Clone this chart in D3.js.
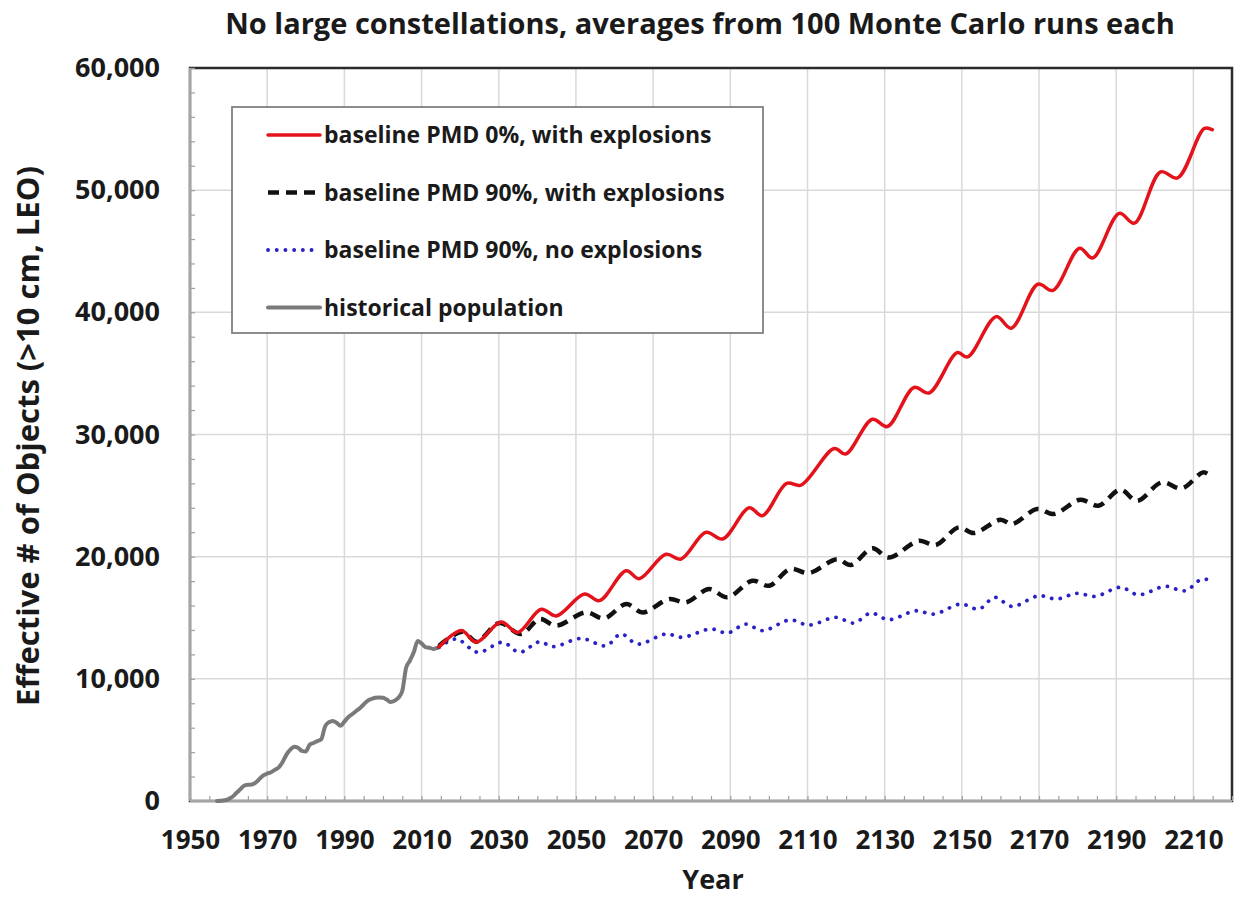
<!DOCTYPE html>
<html>
<head>
<meta charset="utf-8">
<script src="https://cdn.jsdelivr.net/npm/d3@7"></script>
<style>
  body { margin: 0; background: #fff; }
  svg text { font-family: "Open Sans", "DejaVu Sans", sans-serif; fill: #1a1a1a; }
</style>
</head>
<body>
<div id="chart"></div>
<script>
// historical population (gray)
const histYears = [1957, 1958, 1959, 1960, 1961, 1962, 1963, 1964, 1965, 1966, 1967, 1968, 1969, 1970,
  1971, 1972, 1973, 1974, 1975, 1976, 1977, 1978, 1979, 1980, 1981, 1982, 1983, 1984, 1985, 1986, 1987,
  1988, 1989, 1990, 1991, 1992, 1993, 1994, 1995, 1996, 1997, 1998, 1999, 2000, 2001, 2002, 2003, 2004,
  2005, 2006, 2007, 2008, 2009, 2010, 2011, 2012, 2013, 2014.5];
const histValues = [0, 20, 60, 150, 350, 650, 950, 1250, 1330, 1350, 1500, 1800, 2100, 2250,
  2350, 2550, 2750, 3200, 3800, 4200, 4450, 4350, 4100, 4050, 4600, 4750, 4900, 5050, 6100, 6450, 6550,
  6400, 6150, 6500, 6850, 7100, 7350, 7600, 7900, 8200, 8350, 8450, 8480, 8450, 8300, 8100, 8200, 8450,
  9000, 10900, 11500, 12200, 13100, 12900, 12600, 12550, 12450, 12600];

// baseline PMD 0%, with explosions (red)
const redYears = [2014.5, 2020.3, 2024.2, 2030.6, 2034.9, 2041.0, 2044.9, 2052.2, 2056.1, 2063.0, 2066.4,
  2073.3, 2077.2, 2083.7, 2088.0, 2094.9, 2098.3, 2104.6, 2108.3, 2116.9, 2119.9, 2126.8, 2130.7, 2137.6,
  2141.5, 2148.8, 2151.5, 2158.9, 2162.8, 2169.7, 2173.6, 2180.5, 2183.9, 2190.8, 2194.7, 2201.5, 2205.9,
  2212.8, 2214.9];
const redValues = [12600, 13950, 13000, 14650, 13800, 15700, 15150, 16950, 16400, 18850, 18200,
  20200, 19800, 22000, 21450, 24000, 23350, 26000, 25850, 28850, 28400, 31250, 30650, 33850,
  33400, 36700, 36350, 39650, 38700, 42300, 41800, 45250, 44450, 48100, 47300, 51500, 51000,
  55050, 54950];

// baseline PMD 90%, with explosions (black dashed)
const blackYears = [2014.5, 2020.7, 2024.2, 2030.2, 2035.8, 2040.6, 2044.9, 2052.6, 2057.3, 2063.0, 2067.3,
  2074.2, 2078.5, 2084.5, 2089.3, 2095.7, 2100.1, 2105.5, 2110.4, 2117.7, 2121.2, 2126.8, 2131.1, 2138.9,
  2143.2, 2149.2, 2153.1, 2160.0, 2163.0, 2169.5, 2173.8, 2180.7, 2185.4, 2191.1, 2195.4, 2201.8, 2207.0,
  2212.6, 2214.8];
const blackValues = [12700, 13860, 13040, 14570, 13670, 14890, 14350, 15440, 14950, 16120, 15440,
  16530, 16260, 17350, 16670, 18030, 17620, 18990, 18660, 19800, 19310, 20680, 19940, 21300,
  20950, 22400, 21930, 23020, 22670, 23900, 23490, 24660, 24170, 25480, 24570, 26080, 25590,
  26900, 26490];

// baseline PMD 90%, no explosions (blue dotted)
const blueYears = [2014.5, 2019.0, 2024.6, 2031.0, 2035.4, 2040.6, 2044.0, 2051.3, 2057.8, 2061.7, 2066.0,
  2073.3, 2077.6, 2085.0, 2089.3, 2094.0, 2098.3, 2105.5, 2110.4, 2117.3, 2122.0, 2126.4, 2131.1, 2138.0,
  2142.8, 2149.7, 2154.4, 2158.5, 2163.0, 2169.9, 2174.6, 2179.8, 2184.6, 2191.1, 2195.8, 2202.7, 2207.9,
  2212.2, 2214.8];
const blueValues = [12580, 13260, 12170, 12990, 12170, 13040, 12630, 13310, 12710, 13670, 12850,
  13670, 13400, 14080, 13750, 14480, 13940, 14820, 14400, 15030, 14570, 15380, 14840, 15570,
  15300, 16120, 15710, 16670, 15930, 16800, 16530, 17000, 16750, 17490, 16880, 17570, 17210,
  18170, 17980];

const xTicks = [1950, 1970, 1990, 2010, 2030, 2050, 2070, 2090, 2110, 2130, 2150, 2170, 2190, 2210];
const yTicks = [0, 10000, 20000, 30000, 40000, 50000, 60000];

const series = [
  {name: "baseline PMD 0%, with explosions", years: redYears, values: redValues,
   color: "#e3121b", width: 3.5, dash: null, cap: "round", curve: d3.curveCatmullRom},
  {name: "baseline PMD 90%, with explosions", years: blackYears, values: blackValues,
   color: "#111111", width: 4.5, dash: "11,7", cap: "butt", curve: d3.curveCatmullRom},
  {name: "baseline PMD 90%, no explosions", years: blueYears, values: blueValues,
   color: "#2a22c4", width: 3.8, dash: "0.1,8.6", cap: "round", curve: d3.curveCatmullRom},
  {name: "historical population", years: histYears, values: histValues,
   color: "#7a7a7a", width: 4, dash: null, cap: "round", curve: d3.curveMonotoneX}
];

const W = 1236, H = 902;
const plot = {left: 190, right: 1232, top: 68, bottom: 801};

const x = d3.scaleLinear().domain([1950, 2220]).range([plot.left, plot.right]);
const y = d3.scaleLinear().domain([0, 60000]).range([plot.bottom, plot.top]);

const svg = d3.select("#chart").append("svg")
  .attr("width", W)
  .attr("height", H);

// title
svg.append("text")
  .attr("x", 700)
  .attr("y", 34)
  .attr("text-anchor", "middle")
  .style("font-size", "29px")
  .style("font-weight", 700)
  .text("No large constellations, averages from 100 Monte Carlo runs each");

// gridlines
svg.append("g")
  .selectAll("line.vgrid")
  .data(xTicks.slice(1))
  .join("line")
  .attr("x1", d => x(d)).attr("x2", d => x(d))
  .attr("y1", plot.top).attr("y2", plot.bottom)
  .attr("stroke", "#d9d9d9").attr("stroke-width", 1.5);

svg.append("g")
  .selectAll("line.hgrid")
  .data(yTicks.slice(1, -1))
  .join("line")
  .attr("x1", plot.left).attr("x2", plot.right)
  .attr("y1", d => y(d)).attr("y2", d => y(d))
  .attr("stroke", "#d9d9d9").attr("stroke-width", 1.5);

// frame (dark top / right)
svg.append("rect")
  .attr("x", plot.left).attr("y", plot.top)
  .attr("width", plot.right - plot.left)
  .attr("height", plot.bottom - plot.top)
  .attr("fill", "none")
  .attr("stroke", "#2b2b2b")
  .attr("stroke-width", 2.5);

// minor ticks, pointing inward
const minorX = d3.range(1950, 2221, 5);
const minorY = d3.range(0, 60001, 2000);

const xMinor = svg.append("g")
  .attr("transform", `translate(0,${plot.bottom})`)
  .call(d3.axisBottom(x).tickValues(minorX).tickSize(-5).tickFormat(""));
xMinor.selectAll(".tick line").attr("stroke", "#a0a0a0").attr("stroke-width", 1.2);
xMinor.select(".domain").remove();

const yMinor = svg.append("g")
  .attr("transform", `translate(${plot.left},0)`)
  .call(d3.axisLeft(y).tickValues(minorY).tickSize(-5).tickFormat(""));
yMinor.selectAll(".tick line").attr("stroke", "#a0a0a0").attr("stroke-width", 1.2);
yMinor.select(".domain").remove();

// gray axis lines left / bottom
svg.append("line")
  .attr("x1", plot.left).attr("x2", plot.left)
  .attr("y1", plot.top).attr("y2", plot.bottom)
  .attr("stroke", "#a6a6a6").attr("stroke-width", 2);
svg.append("line")
  .attr("x1", plot.left).attr("x2", plot.right)
  .attr("y1", plot.bottom).attr("y2", plot.bottom)
  .attr("stroke", "#a6a6a6").attr("stroke-width", 2);

// tick labels
const xAxis = svg.append("g")
  .attr("transform", `translate(0,${plot.bottom})`)
  .call(d3.axisBottom(x).tickValues(xTicks).tickSize(0).tickPadding(30).tickFormat(d3.format("d")));
xAxis.select(".domain").remove();
xAxis.selectAll("text")
  .style("font-size", "26px").style("font-weight", 700).attr("fill", "#1a1a1a");

const yAxis = svg.append("g")
  .attr("transform", `translate(${plot.left},0)`)
  .call(d3.axisLeft(y).tickValues(yTicks).tickSize(0).tickPadding(30).tickFormat(d3.format(",")));
yAxis.select(".domain").remove();
yAxis.selectAll("text")
  .style("font-size", "27px").style("font-weight", 700).attr("fill", "#1a1a1a");

// axis titles
svg.append("text")
  .attr("x", 713)
  .attr("y", 889)
  .attr("text-anchor", "middle")
  .style("font-size", "27px")
  .style("font-weight", 700)
  .text("Year");

svg.append("text")
  .attr("transform", "translate(39,436) rotate(-90)")
  .attr("text-anchor", "middle")
  .style("font-size", "31px")
  .style("font-weight", 700)
  .text("Effective # of Objects (>10 cm, LEO)");

// lines
const drawOrder = [series[3], series[2], series[1], series[0]];
drawOrder.forEach(s => {
  const pts = s.years.map((yr, i) => [yr, s.values[i]]);
  svg.append("path")
    .datum(pts)
    .attr("fill", "none")
    .attr("stroke", s.color)
    .attr("stroke-width", s.width)
    .attr("stroke-linecap", s.cap)
    .attr("stroke-linejoin", "round")
    .attr("stroke-dasharray", s.dash)
    .attr("d", d3.line()
      .curve(s.curve)
      .x(d => x(d[0]))
      .y(d => y(d[1])));
});

// legend
const legend = svg.append("g");
legend.append("rect")
  .attr("x", 232).attr("y", 107)
  .attr("width", 531).attr("height", 226)
  .attr("fill", "#fff")
  .attr("stroke", "#808080")
  .attr("stroke-width", 1.8);

series.forEach((s, i) => {
  const ly = 135 + i * 57.5;
  legend.append("line")
    .attr("x1", 268).attr("x2", 320)
    .attr("y1", ly).attr("y2", ly)
    .attr("stroke", s.color)
    .attr("stroke-width", s.width)
    .attr("stroke-linecap", s.cap)
    .attr("stroke-dasharray", s.dash);
  legend.append("text")
    .attr("x", 324)
    .attr("y", ly)
    .attr("dy", "0.35em")
    .style("font-size", "23px")
    .style("font-weight", 700)
    .text(s.name);
});
</script>
</body>
</html>
